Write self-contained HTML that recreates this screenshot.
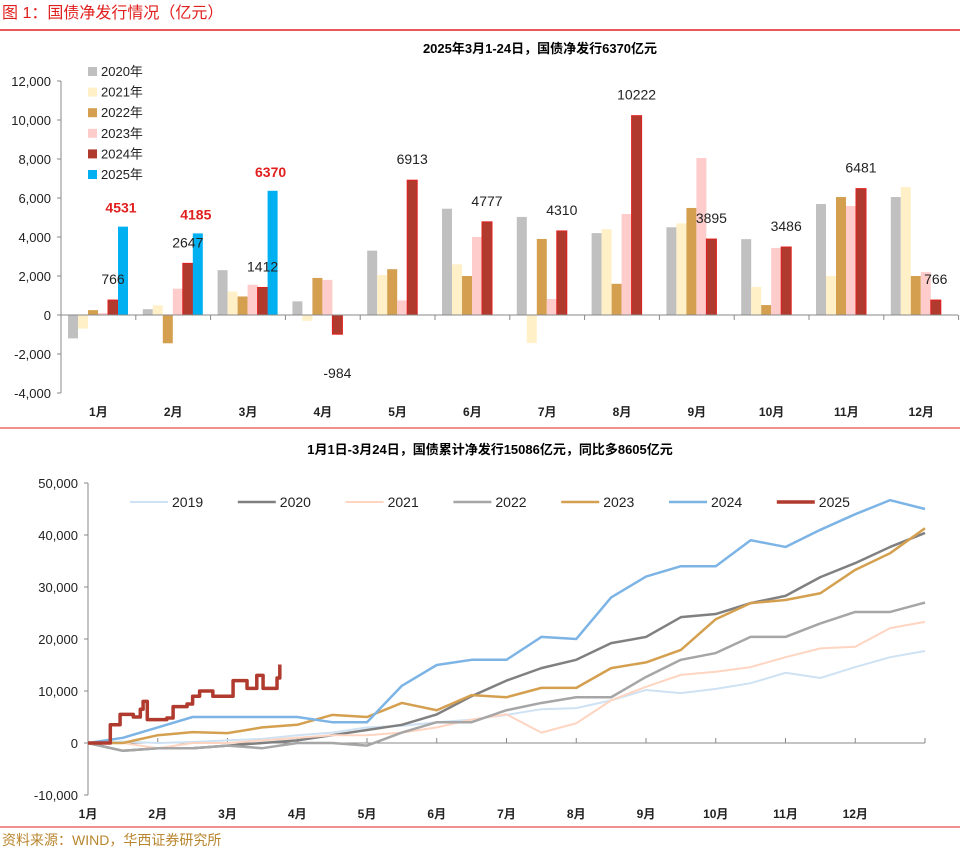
<!DOCTYPE html>
<html><head><meta charset="utf-8">
<style>
body{margin:0;background:#fff;width:960px;height:851px;overflow:hidden;font-family:"Liberation Sans","Noto Sans CJK SC",sans-serif;}
svg text{font-family:"Liberation Sans","Noto Sans CJK SC",sans-serif;}
</style></head>
<body>
<svg id="c" width="960" height="851" xmlns="http://www.w3.org/2000/svg">
<text x="2" y="18" font-size="16" fill="#e0201e">图 1：国债净发行情况（亿元）</text>
<line x1="0" y1="30" x2="960" y2="30" stroke="#e0201e" stroke-width="1.5"/>
<text x="540" y="53" font-size="13" font-weight="bold" text-anchor="middle">2025年3月1-24日，国债净发行6370亿元</text>
<line x1="0" y1="428" x2="960" y2="428" stroke="#e0201e" stroke-width="1"/>
<text x="490" y="454" font-size="13" font-weight="bold" text-anchor="middle">1月1日-3月24日，国债累计净发行15086亿元，同比多8605亿元</text>
<line x1="0" y1="827" x2="960" y2="827" stroke="#e0201e" stroke-width="1"/>
<text x="2" y="845" font-size="14" fill="#b8862e">资料来源：WIND，华西证券研究所</text>
<g id="topChart"></g>
<g id="botChart"></g>
</svg>
<script>
const months = ['1月','2月','3月','4月','5月','6月','7月','8月','9月','10月','11月','12月'];
const barYears = ['2020年','2021年','2022年','2023年','2024年','2025年'];
const v2020 = [-1200,300,2300,700,3300,5450,5030,4200,4500,3890,5690,6050];
const v2021 = [-700,500,1200,-300,2050,2600,-1440,4400,4700,1440,2000,6560];
const v2022 = [250,-1450,950,1900,2350,2000,3900,1600,5490,510,6050,2000];
const v2023 = [100,1350,1550,1800,750,4000,820,5180,8050,3440,5590,2200];
const v2024 = [766,2647,1412,-984,6913,4777,4310,10222,3895,3486,6481,766];
const v2025 = [4531,4185,6370,null,null,null,null,null,null,null,null,null];
const topTicks = [-4000,-2000,0,2000,4000,6000,8000,10000,12000];

const lineMonths = [0,0.5,1,1.5,2,2.5,3,3.5,4,4.5,5,5.5,6,6.5,7,7.5,8,8.5,9,9.5,10,10.5,11,11.5,12];
const s2019 = [0,300,0,200,500,800,1500,2000,3000,3300,4000,4500,5400,6500,6700,8200,10200,9600,10400,11500,13500,12500,14600,16500,17700];
const s2020 = [0,-1500,-1000,-1000,-500,0,500,1500,2500,3500,5500,9000,12000,14400,16000,19200,20400,24200,24800,26900,28300,31900,34600,37700,40400];
const s2021 = [0,0,-1000,0,0,500,1000,1500,1500,2000,3000,4500,5500,2000,3800,8200,10800,13100,13700,14600,16500,18200,18500,22100,23300];
const s2022 = [0,-1500,-1000,-1000,-500,-1000,0,0,-500,2000,4000,4000,6300,7700,8800,8800,12700,16000,17300,20400,20400,23000,25200,25200,27000];
const s2023 = [0,0,1500,2100,1900,3000,3500,5400,5000,7700,6300,9200,8800,10600,10600,14400,15500,17900,23800,26900,27500,28800,33300,36500,41300];
const s2024 = [0,1000,3000,5000,5000,5000,5000,4000,4000,11000,15000,16000,16000,20400,20000,28000,32000,34000,34000,39000,37700,41000,44000,46700,45000];
const m2025 = [0,0.17,0.32,0.46,0.65,0.75,0.79,0.85,1.13,1.22,1.42,1.5,1.6,1.79,2.08,2.28,2.42,2.51,2.71,2.75];
const s2025 = [0,0,3500,5500,5000,6500,8000,4500,4800,7000,7500,9000,10000,9000,12000,10500,13000,10500,12500,15086];
const botTicks = [-10000,0,10000,20000,30000,40000,50000];
const lineYears = ['2019','2020','2021','2022','2023','2024','2025'];

const NS='http://www.w3.org/2000/svg';
function mk(parent,tag,attrs){const e=document.createElementNS(NS,tag);for(const k in attrs)e.setAttribute(k,attrs[k]);parent.appendChild(e);return e;}
function fmt(v){return v.toLocaleString('en-US');}

// ---- top bar chart ----
const topG=document.getElementById('topChart');
const tx0=61, tband=74.8, tyZero=315, tyScale=39/2000;
const ty=v=>tyZero-v*tyScale;
const barColors=['#c0c0c0','#fff0c8','#d4a050','#ffcccc','#b03a2e','#00b0f0'];
const barSeries=[v2020,v2021,v2022,v2023,v2024,v2025];
let ax=mk(topG,'line',{x1:tx0,y1:ty(12000),x2:tx0,y2:ty(-4000),stroke:'#888'});


topTicks.forEach(t=>{
  let l=mk(topG,'line',{x1:tx0-4,y1:ty(t),x2:tx0,y2:ty(t),stroke:'#888'});
  
  
  let tt=mk(topG,'text',{x:tx0-10,y:ty(t)+5,'font-size':13,'text-anchor':'end',fill:'#222'});
  tt.textContent=fmt(t);
  
  
});
barSeries.forEach((s,si)=>{
  s.forEach((v,mi)=>{
    if(v===null)return;
    const x=tx0+mi*tband+7+si*10;
    const y=Math.min(ty(v),tyZero), h=Math.abs(ty(v)-tyZero);
    const attrs={x:x,y:y,width:10,height:h,fill:barColors[si]};
    if(si===4){attrs.stroke='#e0201e';attrs['stroke-width']=1;}
    let r=mk(topG,'rect',attrs);
    
    
  });
});
let za=mk(topG,'line',{x1:tx0,y1:tyZero,x2:958,y2:tyZero,stroke:'#888'});


months.forEach((m,mi)=>{
  let tk=mk(topG,'line',{x1:tx0+(mi+1)*tband,y1:tyZero,x2:tx0+(mi+1)*tband,y2:tyZero+5,stroke:'#888'});
  
  
  let t=mk(topG,'text',{x:tx0+mi*tband+tband/2,y:416,'font-size':12,'font-weight':'bold','text-anchor':'middle',fill:'#222'});
  t.textContent=m;
  
  
  const v=v2024[mi];const cx=tx0+mi*tband+7+45;
  let lb=mk(topG,'text',{x:cx,y:v>=0?ty(v)-16:ty(v)+44,'font-size':14,'text-anchor':'middle',fill:'#222'});
  lb.textContent=v;
  
  
  const w=v2025[mi];
  if(w!==null){
    let lb2=mk(topG,'text',{x:cx+8,y:ty(w)-14,'font-size':14,'font-weight':'bold','text-anchor':'middle',fill:'#e0201e'});
    lb2.textContent=w;
    
    
  }
});
barYears.forEach((yname,i)=>{
  const y=67+i*20.6;
  let sq=mk(topG,'rect',{x:88,y:y,width:9,height:9,fill:barColors[i]});
  
  
  let t=mk(topG,'text',{x:101,y:y+9,'font-size':13,fill:'#222'});
  t.textContent=yname;
  
  
});

// ---- bottom line chart ----
const botG=document.getElementById('botChart');
const bx0=88, bmon=(925-88)/12, byZero=743, byScale=52/10000;
const bx=m=>bx0+m*bmon, by=v=>byZero-v*byScale;
let ya=mk(botG,'line',{x1:bx0,y1:by(50000),x2:bx0,y2:by(-10000),stroke:'#888'});


botTicks.forEach(t=>{
  let l=mk(botG,'line',{x1:bx0-4,y1:by(t),x2:bx0,y2:by(t),stroke:'#888'});
  
  
  let tt=mk(botG,'text',{x:bx0-10,y:by(t)+5,'font-size':13,'text-anchor':'end',fill:'#222'});
  tt.textContent=fmt(t);
  
  
});
let xa=mk(botG,'line',{x1:bx0,y1:byZero,x2:925,y2:byZero,stroke:'#888'});


for(let i=0;i<=12;i++){
  let tk=mk(botG,'line',{x1:bx(i),y1:byZero-5,x2:bx(i),y2:byZero,stroke:'#888'});
  
  
}
months.forEach((m,i)=>{
  let t=mk(botG,'text',{x:bx(i),y:818,'font-size':12,'font-weight':'bold','text-anchor':'middle',fill:'#222'});
  t.textContent=m;
  
  
});
const lineColors=['#cfe2f3','#808080','#ffd5c2','#a6a6a6','#d4a050','#7db4e6','#b03a2e'];
const lineWidths=[2,2.5,2,2.5,2.5,2.5,3.5];
function stepPts(ms,vs){let p=[];for(let i=0;i<ms.length;i++){if(i>0)p.push(bx(ms[i])+','+by(vs[i-1]));p.push(bx(ms[i])+','+by(vs[i]));}return p.join(' ');}
function linPts(ms,vs){return ms.map((m,i)=>bx(m)+','+by(vs[i])).join(' ');}
const lineData=[s2019,s2020,s2021,s2022,s2023,s2024];
lineData.forEach((s,i)=>{
  let pl=mk(botG,'polyline',{points:linPts(lineMonths,s),fill:'none',stroke:lineColors[i],'stroke-width':lineWidths[i],'stroke-linejoin':'round'});
  
  
});
let pl25=mk(botG,'polyline',{points:stepPts(m2025,s2025),fill:'none',stroke:lineColors[6],'stroke-width':lineWidths[6],'stroke-linejoin':'round'});


lineYears.forEach((yname,i)=>{
  const x=130+i*107.8;
  let l=mk(botG,'line',{x1:x,y1:502,x2:x+38,y2:502,stroke:lineColors[i],'stroke-width':lineWidths[i]});
  
  
  let t=mk(botG,'text',{x:x+42,y:507,'font-size':14,fill:'#222'});
  t.textContent=yname;
  
  
});
</script>
</body></html>
